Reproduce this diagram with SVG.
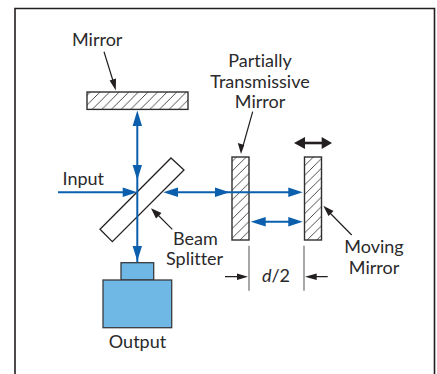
<svg xmlns="http://www.w3.org/2000/svg" width="437" height="374" viewBox="0 0 437 374">
<style>
text{font-family:"Lato","Open Sans","Liberation Sans",sans-serif;font-size:18px;fill:#2a2a2c;font-variant-ligatures:none}
.m{text-anchor:middle}
.b{stroke:#0b5fad;stroke-width:2;fill:none}
.k{stroke:#231f20;stroke-width:1.2;fill:none}
.bh{fill:#0b5fad}
.kh{fill:#231f20}
.hatch{fill:url(#h);stroke:#2f2f31;stroke-width:1.4}
.out{fill:#6fb8e6;stroke:#3a3a3c;stroke-width:1.3}
.dim{stroke:#6d6e70;stroke-width:1.2;fill:none}
</style>
<defs>
<pattern id="h" patternUnits="userSpaceOnUse" width="9.6" height="9.6">
<rect width="9.6" height="9.6" fill="#fff"/>
<path d="M-1 10.6L10.6-1M-1 1L1-1M8.6 10.6L10.6 8.6" stroke="#222" stroke-width=".8" fill="none"/>
</pattern>
</defs>
<path id="frame" d="M15 374V8.5H434.5V374" fill="none" stroke="#231f20" stroke-width="1.6"/>
<g id="mirror"><rect class="hatch" x="87" y="92" width="101" height="17.4"/><text x="72" y="45.5">Mirror</text></g>
<g id="partial-mirror"><rect class="hatch" x="232" y="157" width="17" height="83"/><text class="m" x="260" y="67">Partially</text><text class="m" x="260" y="87.5">Transmissive</text><text class="m" x="260" y="108">Mirror</text></g>
<g id="moving-mirror"><rect class="hatch" x="304.5" y="157" width="17" height="83"/><text class="m" x="374" y="252.5">Moving</text><text class="m" x="374" y="273.5">Mirror</text></g>
<g id="beam-splitter"><path d="M171 158L184 170L112.3 241.7L100 229.3Z" fill="#fff" stroke="#231f20" stroke-width="1.3"/><text x="173" y="245">Beam</text><text x="166" y="265">Splitter</text></g>
<g id="output"><rect class="out" x="121" y="262.7" width="32.7" height="17.3"/><rect class="out" x="103" y="280" width="68.7" height="47.7"/><text class="m" x="137.5" y="348">Output</text></g>
<g id="input"><text x="62.5" y="185">Input</text></g>
<g id="connectors">
<path class="b" d="M137.3 120V262M58 192.3H130M170 192.3H296M258 221.7H296"/>
<path class="bh" d="M137.3 110.5L142 126H132.6ZM137.3 180L132.6 165H142ZM137.3 261L132.6 246H142ZM137.3 192.3L122.7 187.5V197.1ZM163.3 192.3L178 187.5V197.1ZM229.5 192.3L215 187.5V197.1ZM302.7 192.3L288.3 187.5V197.1ZM250.7 221.7L265.7 217V226.4ZM302.7 221.7L288.3 217V226.4Z"/>
<path class="kh" d="M294 143L305 137V149ZM332 143L321.7 137V149Z"/>
<path d="M300 143H326" stroke="#231f20" stroke-width="2.6" fill="none"/>
<path class="k" d="M104 51.7L114 84M252.7 111.7L243 146M351.7 235L329 212M172.3 229.3L156.5 213.5M225 276.7H240M327.7 276.7H313"/>
<path class="kh" d="M115.8 90.5L109.6 80.5L116 78.5ZM241 154L237.8 143L244.3 145ZM323.3 205.7L333.5 211L328.5 216ZM151 208.3L161.5 213L156 218.5ZM248 276.7L237 273.4V280ZM305 276.7L316.7 273.4V280Z"/>
<path class="dim" d="M249 245.7V290.7M304 245.7V290.7"/>
<text class="m" x="276" y="281.5"><tspan font-style="italic">d</tspan>/2</text>
</g>
</svg>
